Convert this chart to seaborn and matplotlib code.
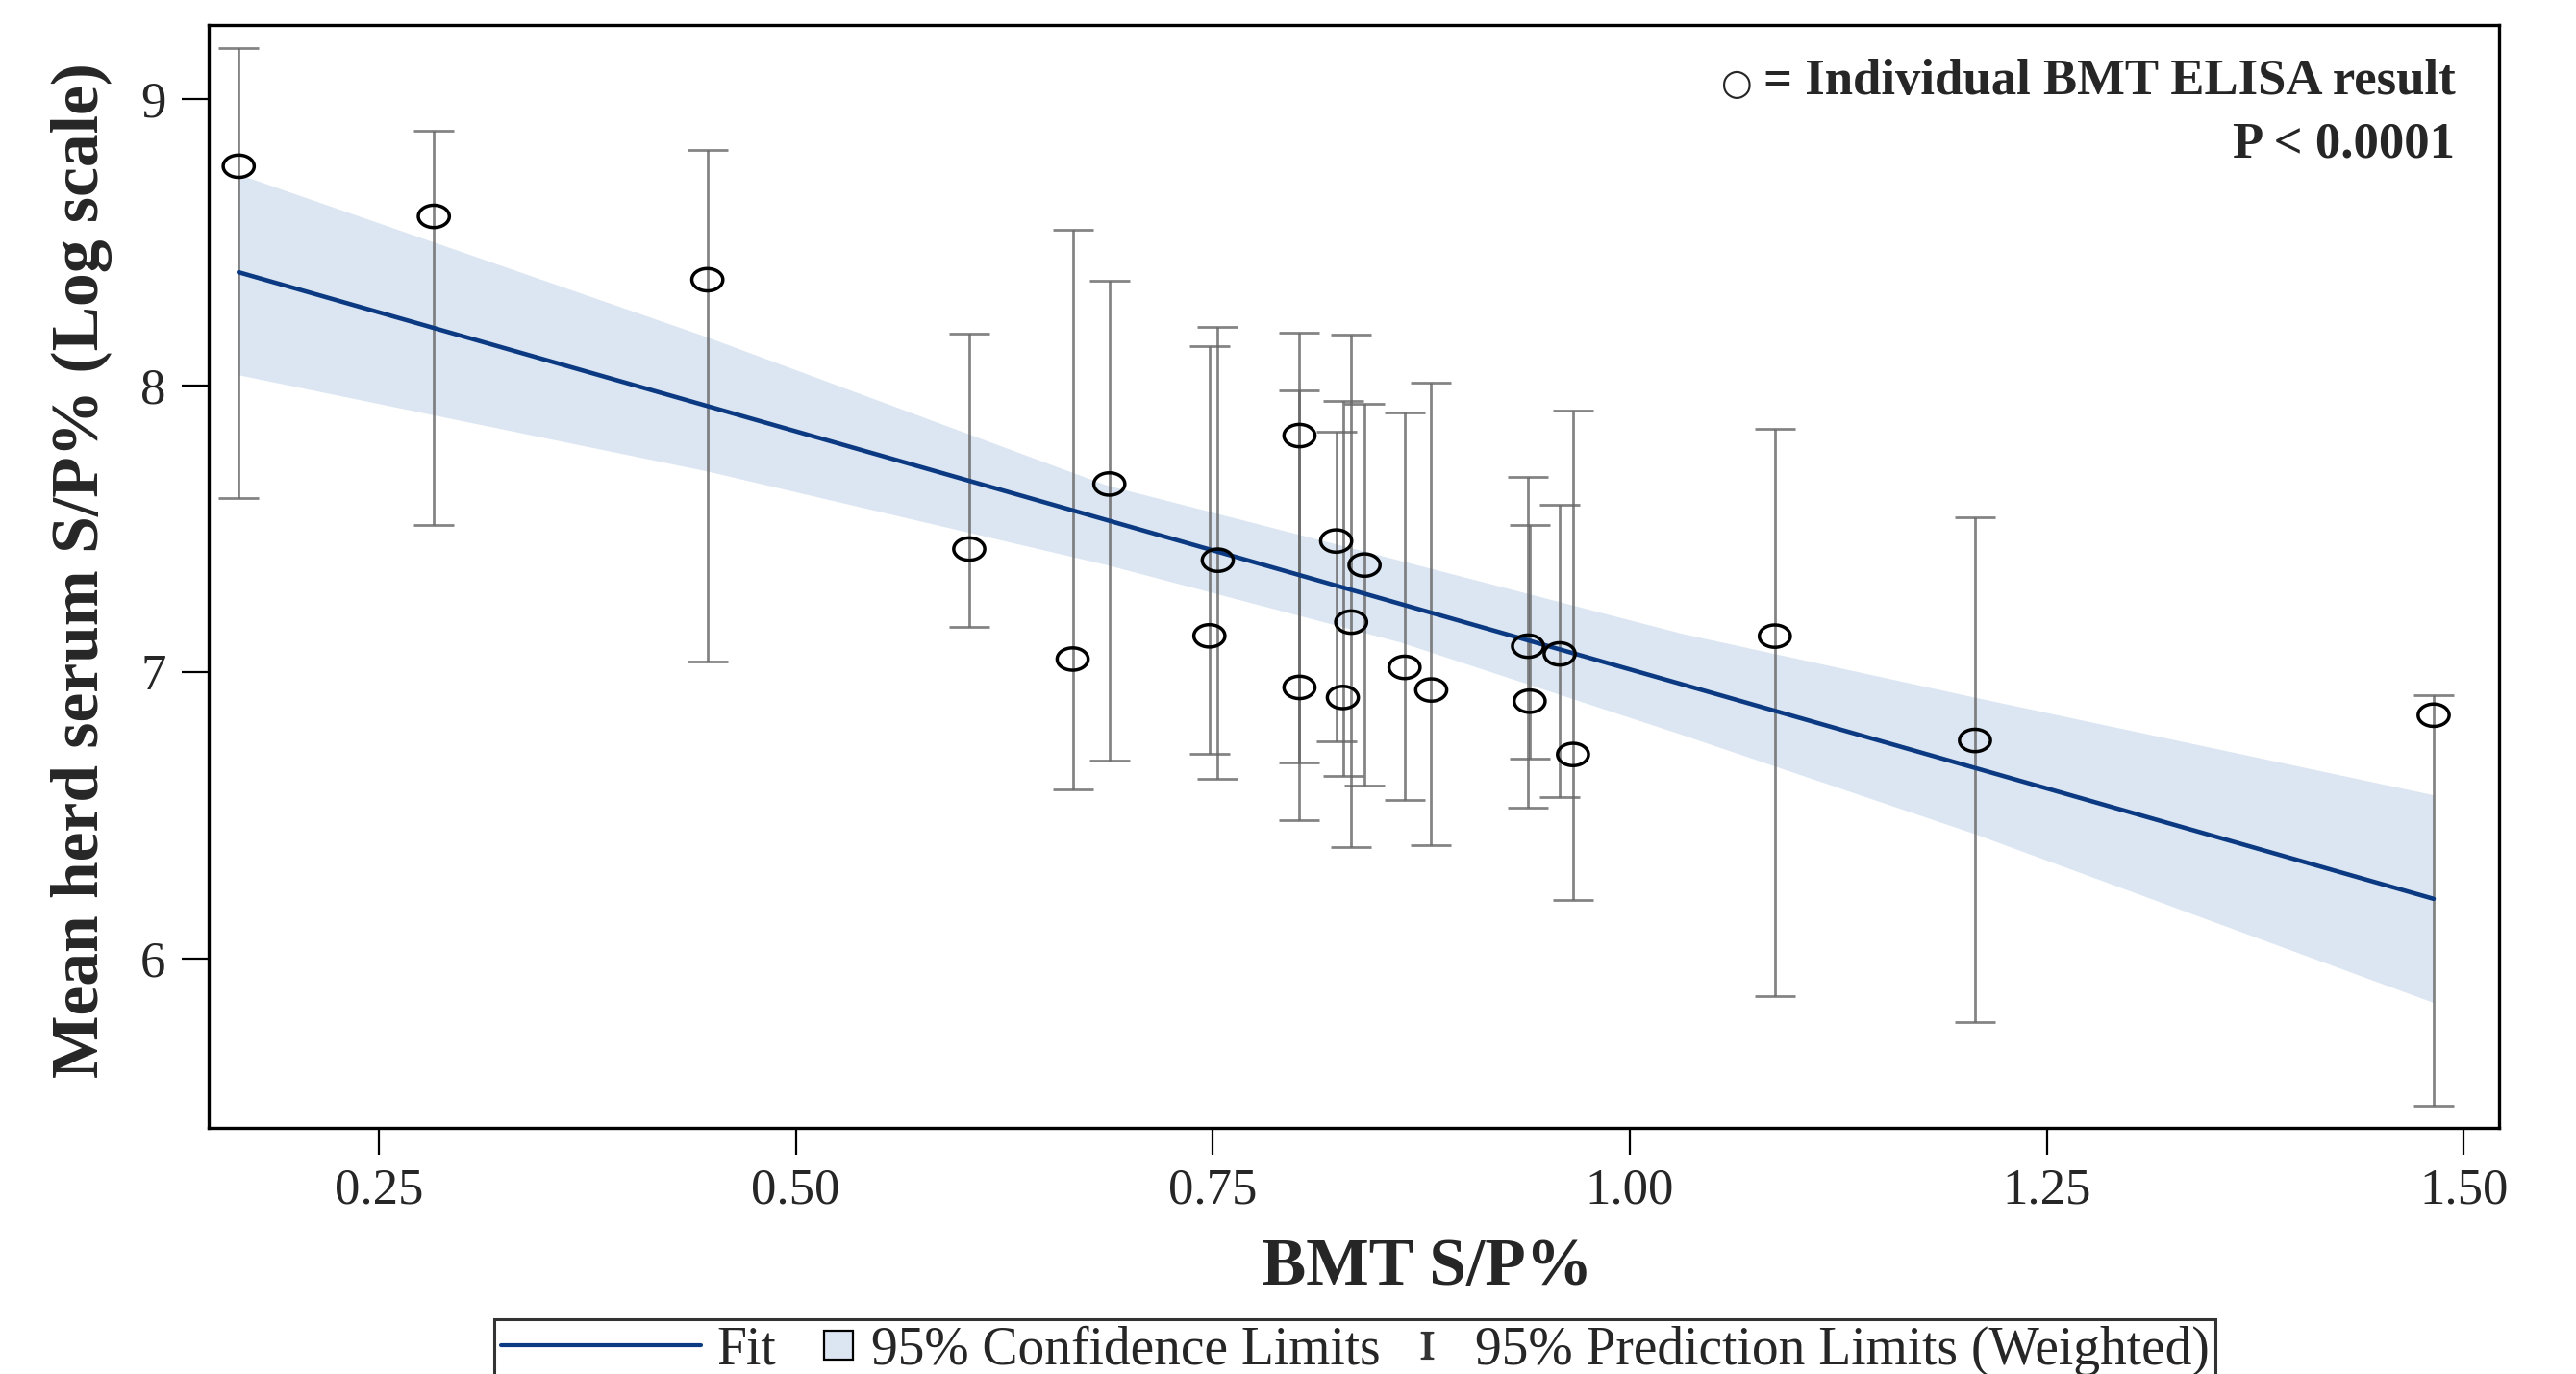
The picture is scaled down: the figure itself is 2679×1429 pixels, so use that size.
import numpy as np
import pandas as pd
import matplotlib
matplotlib.use("Agg")
import matplotlib.pyplot as plt
import seaborn as sns
from matplotlib.path import Path
from matplotlib.lines import Line2D
from matplotlib.legend_handler import HandlerLine2D

# Values
bmt_sp = [0.166, 0.283, 0.447, 0.604, 0.666, 0.688, 0.748, 0.753, 0.802, 0.802,
          0.824, 0.828, 0.833, 0.841, 0.865, 0.881, 0.939, 0.940, 0.958, 0.966,
          1.087, 1.207, 1.482]
herd_sp = [8.764, 8.589, 8.368, 7.428, 7.044, 7.655, 7.125, 7.389, 7.824, 6.945,
           7.456, 6.910, 7.173, 7.372, 7.015, 6.936, 7.089, 6.897, 7.062, 6.711,
           7.124, 6.760, 6.848]
pred_lo = [7.606, 7.512, 7.034, 7.155, 6.590, 6.689, 6.714, 6.627, 6.483, 6.684,
           6.757, 6.636, 6.388, 6.604, 6.552, 6.394, 6.526, 6.695, 6.563, 6.202,
           5.868, 5.778, 5.485]
pred_hi = [9.177, 8.887, 8.820, 8.180, 8.541, 8.363, 8.136, 8.202, 8.182, 7.982,
           7.836, 7.946, 8.178, 7.935, 7.904, 8.010, 7.681, 7.513, 7.584, 7.913,
           7.848, 7.539, 6.917]

fit_x = [0.166, 1.482]
fit_y = [8.394, 6.207]

band_x = [0.166, 0.447, 0.686, 0.862, 1.031, 1.206, 1.482]
band_hi = [8.736, 8.168, 7.652, 7.389, 7.134, 6.912, 6.570]
band_lo = [8.036, 7.700, 7.374, 7.104, 6.781, 6.436, 5.845]

x_ticks = [0.25, 0.50, 0.75, 1.00, 1.25, 1.50]
y_ticks = [6, 7, 8, 9]

df = pd.DataFrame({"bmt": bmt_sp, "herd": herd_sp, "lo": pred_lo, "hi": pred_hi})
df["mid"] = (df["lo"] + df["hi"]) / 2
df["half"] = (df["hi"] - df["lo"]) / 2

sns.set_style("white")
plt.rcParams["font.family"] = ["Liberation Serif", "DejaVu Sans"]
plt.rcParams["mathtext.fontset"] = "stix"

navy = "#0b3a82"
band_col = "#dce6f2"


class RightMarker(HandlerLine2D):
    # single legend marker pushed toward the right end of its handle box
    def __init__(self, inset, **kw):
        super().__init__(**kw)
        self.inset = inset

    def get_xdata(self, legend, xdescent, ydescent, width, height, fontsize):
        m = -xdescent + width - self.inset * fontsize
        return np.array([m - 1, m + 1]), np.array([m])


fig = plt.figure(figsize=(26.79, 14.29), dpi=100)
ax = fig.add_axes([0.081, 0.1794, 0.889, 0.8026])

ax.fill_between(band_x, band_lo, band_hi, color=band_col, lw=0, zorder=1)
ax.errorbar(df["bmt"], df["mid"], yerr=df["half"], fmt="none", ecolor="#666666",
            alpha=0.8, elinewidth=2.0, capsize=15, capthick=2.0, zorder=2)
sns.lineplot(x=fit_x, y=fit_y, color=navy, lw=3.3, ax=ax, zorder=3)

# slightly flattened open circle, like the reference
t = np.linspace(0, 2 * np.pi, 60)
ellipse = Path(np.column_stack([np.cos(t), 0.72 * np.sin(t)]), closed=True)
sns.scatterplot(data=df, x="bmt", y="herd", marker=ellipse, s=540,
                facecolors="none", edgecolors="black", linewidth=2.5, ax=ax, zorder=4)

ax.set_xlim(0.148, 1.521)
ax.set_ylim(5.409, 9.258)
ax.set_xticks(x_ticks)
ax.set_xticklabels([f"{v:.2f}" for v in x_ticks])
ax.set_yticks(y_ticks)
ax.tick_params(axis="both", direction="out", length=20, width=1.6, labelsize=38,
               color="black", bottom=True, left=True)
ax.tick_params(axis="x", pad=10)
ax.tick_params(axis="y", pad=12)
for s in ax.spines.values():
    s.set_color("black")
    s.set_linewidth(2.4)

ax.set_xlabel("BMT S/P%", fontsize=50, fontweight="bold")
ax.set_ylabel("Mean herd serum S/P% (Log scale)", fontsize=50, fontweight="bold")
ax.xaxis.set_label_coords(0.532, -0.100)
ax.yaxis.set_label_coords(-0.042, 0.505)

note = ax.text(0.981, 0.948, "= Individual BMT ELISA result", transform=ax.transAxes,
               ha="right", va="center", fontsize=38, fontweight="bold")
ax.annotate("○", xy=(0, 0.5), xycoords=note, xytext=(-8, -2),
            textcoords="offset points", ha="right", va="center", fontsize=27,
            family=["DejaVu Sans"])
ax.text(0.981, 0.891, "P < 0.0001", transform=ax.transAxes,
        ha="right", va="center", fontsize=38, fontweight="bold")

fit_handle = Line2D([], [], color=navy, lw=3.0)
ci_handle = Line2D([], [], marker="s", linestyle="none", markersize=21,
                   markerfacecolor=band_col, markeredgecolor="black", markeredgewidth=1.6)
pi_handle = Line2D([], [], marker=r"$\mathrm{I}$", linestyle="none", markersize=20,
                   color="#333333")
labels = ["Fit", "95% Confidence Limits", "95% Prediction Limits (Weighted)"]
leg = fig.legend([fit_handle, ci_handle, pi_handle], labels, loc="upper center",
                 bbox_to_anchor=(0.526, 0.040), ncol=3, fontsize=40, frameon=True,
                 fancybox=False, edgecolor="black", handlelength=3.75,
                 handletextpad=0.3, columnspacing=-2.28, borderpad=0.12,
                 borderaxespad=0,
                 handler_map={ci_handle: RightMarker(0.3), pi_handle: RightMarker(0.6)})
leg.get_frame().set_linewidth(2.2)

fig.savefig("out.png", dpi=100)
